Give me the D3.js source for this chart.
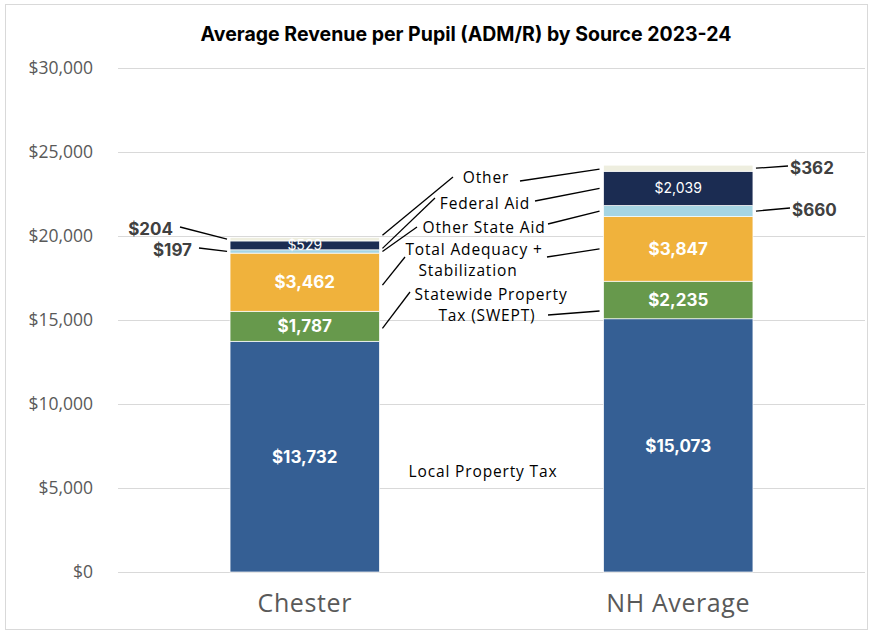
<!DOCTYPE html>
<html>
<head>
<meta charset="utf-8">
<script src="https://cdn.jsdelivr.net/npm/d3@7"></script>
<style>
  body { margin: 0; background: #fff; }
  svg text { font-family: Inter, "Open Sans", sans-serif; }
  svg text.os { font-family: "Open Sans", sans-serif; }
</style>
</head>
<body>
<script>
// chart values
const categories = ['Chester', 'NH Average']
const sources = ['Local Property Tax', 'Statewide Property Tax (SWEPT)', 'Total Adequacy + Stabilization',
  'Other State Aid', 'Federal Aid', 'Other']
const chester = [13732, 1787, 3462, 197, 529, 204]
const nhAverage = [15073, 2235, 3847, 660, 2039, 362]
const colors = ['#355f94', '#67994c', '#f0b23c', '#a6d5e3', '#1b2c52', '#eeeedf']
const yTicks = [0, 5000, 10000, 15000, 20000, 25000, 30000]

const W = 874, H = 634
const margin = {top: 68, right: 9, bottom: 62, left: 118}
const width = W - margin.left - margin.right
const height = H - margin.top - margin.bottom

const svg = d3.select('body').append('svg')
  .attr('width', W)
  .attr('height', H)

// outer border
svg.append('rect')
  .attr('x', 5.5).attr('y', 4.5)
  .attr('width', 862).attr('height', 625)
  .attr('fill', '#fff')
  .attr('stroke', '#d9d9d9')

// title
svg.append('text')
  .attr('x', 466).attr('y', 41)
  .attr('text-anchor', 'middle')
  .attr('font-size', 19.5)
  .attr('font-weight', 700)
  .attr('fill', '#000')
  .text('Average Revenue per Pupil (ADM/R) by Source 2023-24')

const g = svg.append('g')
  .attr('transform', 'translate(' + margin.left + ',' + margin.top + ')')

const x = d3.scaleBand().domain(categories).range([0, width]).paddingInner(0.6).paddingOuter(0.3)
const y = d3.scaleLinear().domain([0, 30000]).range([height, 0])
const fmt = d3.format('$,')

// gridlines + y labels
g.selectAll('.grid').data(yTicks).enter().append('line')
  .attr('x1', 0).attr('x2', width)
  .attr('y1', d => y(d) + 0.5).attr('y2', d => y(d) + 0.5)
  .attr('stroke', '#d9d9d9')

g.selectAll('.ylab').data(yTicks).enter().append('text')
  .attr('class', 'os')
  .attr('x', -25).attr('y', d => y(d))
  .attr('dy', '0.35em')
  .attr('text-anchor', 'end')
  .attr('font-size', 17.5)
  .attr('fill', '#595959')
  .text(d => fmt(d))

// category labels
g.selectAll('.xlab').data(categories).enter().append('text')
  .attr('class', 'os')
  .attr('x', d => x(d) + x.bandwidth() / 2)
  .attr('y', height + 40)
  .attr('text-anchor', 'middle')
  .attr('font-size', 25)
  .attr('fill', '#595959')
  .style('letter-spacing', '0.6px')
  .text(d => d)

// stacked data
const rows = categories.map((c, i) => {
  const row = {cat: c}
  sources.forEach((s, j) => { row[s] = (i === 0 ? chester : nhAverage)[j] })
  return row
})
const series = d3.stack().keys(sources)(rows)

const layer = g.selectAll('.layer').data(series).enter().append('g')
  .attr('fill', (d, i) => colors[i])

layer.selectAll('rect').data(d => d).enter().append('rect')
  .attr('x', d => x(d.data.cat))
  .attr('width', x.bandwidth())
  .attr('y', d => y(d[1]))
  .attr('height', d => y(d[0]) - y(d[1]))
  .attr('stroke', '#fff')
  .attr('stroke-width', 0.7)

// labels inside bars (large segments + federal aid)
const inside = []
series.forEach((s, i) => {
  s.forEach(d => {
    const v = d[1] - d[0]
    if (i <= 2 || i === 4) inside.push({cat: d.data.cat, mid: (d[0] + d[1]) / 2, v: v, bold: i <= 2})
  })
})
g.selectAll('.inlab').data(inside).enter().append('text')
  .attr('x', d => x(d.cat) + x.bandwidth() / 2)
  .attr('y', d => y(d.mid))
  .attr('dy', '0.36em')
  .attr('text-anchor', 'middle')
  .attr('font-size', d => d.bold ? 17 : 14)
  .attr('font-weight', d => d.bold ? 700 : 400)
  .attr('fill', '#fff')
  .text(d => fmt(d.v))

// outside value labels for small segments
const midOf = (ci, si) => (series[si][ci][0] + series[si][ci][1]) / 2
const outside = [
  {ci: 0, si: 5, side: -1, lx: 173 - margin.left, ly: 229 - margin.top},
  {ci: 0, si: 3, side: -1, lx: 192 - margin.left, ly: 250 - margin.top},
  {ci: 1, si: 5, side: 1, lx: 790 - margin.left, ly: 168 - margin.top},
  {ci: 1, si: 3, side: 1, lx: 792 - margin.left, ly: 210 - margin.top}
]
outside.forEach(o => {
  const c = categories[o.ci]
  const bx = o.side < 0 ? x(c) - 3 : x(c) + x.bandwidth() + 3
  const by = y(midOf(o.ci, o.si))
  g.append('line')
    .attr('x1', bx).attr('y1', by)
    .attr('x2', o.side < 0 ? o.lx + 7 : o.lx - 2).attr('y2', o.ly - 2)
    .attr('stroke', '#000').attr('stroke-width', 1.3)
  g.append('text')
    .attr('x', o.lx).attr('y', o.ly)
    .attr('dy', '0.36em')
    .attr('text-anchor', o.side < 0 ? 'end' : 'start')
    .attr('font-size', 17)
    .attr('font-weight', 700)
    .attr('fill', '#404040')
    .text(fmt(series[o.si][o.ci].data[sources[o.si]]))
})

// series name annotations in the middle with leader lines to both bars
const names = [
  {si: 5, lines: ['Other'], tx: [486], ty: 177, left: [453, 177], right: [520, 181], dl: -4, dr: 1},
  {si: 4, lines: ['Federal Aid'], tx: [485], ty: 203, left: [435, 198], right: [535, 201], dl: 3, dr: 0},
  {si: 3, lines: ['Other State Aid'], tx: [484], ty: 227.5, left: [417, 227], right: [548, 224], dl: 0, dr: 0},
  {si: 2, lines: ['Total Adequacy +', 'Stabilization'], tx: [474, 468], ty: 249.3, left: [405, 257], right: [547, 257], dl: 3, dr: 0},
  {si: 1, lines: ['Statewide Property', 'Tax (SWEPT)'], tx: [491, 487], ty: 294, left: [410, 292], right: [548, 315], dl: 2, dr: 11},
  {si: 0, lines: ['Local Property Tax'], tx: [483], ty: 471}
]
names.forEach(n => {
  const t = g.append('text')
    .attr('class', 'os')
    .attr('y', n.ty - margin.top)
    .attr('text-anchor', 'middle')
    .attr('font-size', 15.5)
    .attr('fill', '#000')
    .style('letter-spacing', '0.85px')
  n.lines.forEach((s, k) => {
    t.append('tspan')
      .attr('x', n.tx[k] - margin.left)
      .attr('dy', k === 0 ? '0.36em' : '21.4px')
      .text(s)
  })
  if (!n.left) return
  const cx = x(categories[0]) + x.bandwidth() + 3
  const nx = x(categories[1]) - 4
  g.append('line')
    .attr('x1', n.left[0] - margin.left).attr('y1', n.left[1] - margin.top)
    .attr('x2', cx).attr('y2', y(midOf(0, n.si)) + n.dl)
    .attr('stroke', '#000').attr('stroke-width', 1.3)
  g.append('line')
    .attr('x1', n.right[0] - margin.left).attr('y1', n.right[1] - margin.top)
    .attr('x2', nx).attr('y2', y(midOf(1, n.si)) + n.dr)
    .attr('stroke', '#000').attr('stroke-width', 1.3)
})
</script>
</body>
</html>
